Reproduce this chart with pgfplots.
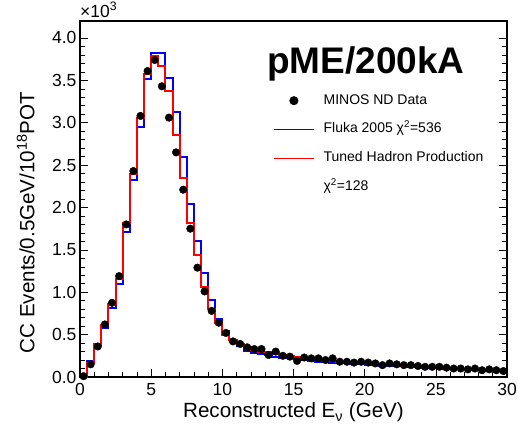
\documentclass[border=0pt]{standalone}
\usepackage{fontspec}
\setmainfont{Liberation Sans}
\usepackage{pgfplots}
\pgfplotsset{compat=1.18}
\begin{document}
\begin{tikzpicture}
\begin{axis}[
  name=ax, set layers,
  at={(0pt,0pt)}, anchor=south west,
  scale only axis, width=427pt, height=356pt,
  xmin=0, xmax=30, ymin=0, ymax=4.2,
  axis line style={line width=1.6pt},
  xtick={0,5,...,30}, minor x tick num=4,
  ytick={0,0.5,...,4}, minor y tick num=4,
  xtick pos=bottom, ytick pos=both,
  tick align=inside,
  major tick length=8pt, minor tick length=5pt,
  tick style={black, line width=0.6pt},
  /pgf/number format/assume math mode=true,
  yticklabel style={/pgf/number format/.cd, fixed, fixed zerofill, precision=1},
  xticklabel style={yshift=-3pt},
  ticklabel style={font=\fontsize{17.5}{19}\selectfont},
  xlabel={Reconstructed E\textsubscript{ν} (GeV)},
  ylabel={CC Events/0.5GeV/10\textsuperscript{18}POT},
  label style={font=\fontsize{20.6}{22}\selectfont},
  xlabel style={at={(axis description cs:0.5,-0.115)}, anchor=base},
  ylabel style={at={(axis description cs:-0.107,0.434)}, anchor=base},
  legend image code/.code={\draw[mark repeat=2,mark phase=2,#1,line width=1.4pt] plot coordinates {(0pt,0pt) (20pt,0pt) (40pt,0pt)};},
  legend cell align=left,
  legend style={draw=none, fill=none, inner sep=0pt,
    at={(0.452,0.795)}, anchor=north west,
    font=\fontsize{14}{16}\selectfont, row sep=15.8pt,
    nodes={inner sep=0pt, text height=10pt, text depth=3pt},
    /tikz/every odd column/.append style={column sep=9pt}},
]
% MINOS ND data
\addplot[only marks, mark=*, color=black, mark size=3.8pt, on layer=axis foreground] coordinates {
(0.25,0.01) (0.75,0.15) (1.25,0.36) (1.75,0.62) (2.25,0.875) (2.75,1.19)
(3.25,1.80) (3.75,2.43) (4.25,3.08) (4.75,3.61) (5.25,3.74) (5.75,3.43)
(6.25,3.06) (6.75,2.65) (7.25,2.21) (7.75,1.75) (8.25,1.29) (8.75,1.01)
(9.25,0.78) (9.75,0.64) (10.25,0.52) (10.75,0.42) (11.25,0.39) (11.75,0.35)
(12.25,0.33) (12.75,0.33) (13.25,0.26) (13.75,0.30) (14.25,0.25) (14.75,0.24)
(15.25,0.19) (15.75,0.23) (16.25,0.22) (16.75,0.22) (17.25,0.20) (17.75,0.22)
(18.25,0.18) (18.75,0.18) (19.25,0.17) (19.75,0.18) (20.25,0.17) (20.75,0.16)
(21.25,0.14) (21.75,0.16) (22.25,0.15) (22.75,0.14) (23.25,0.14) (23.75,0.13)
(24.25,0.12) (24.75,0.12) (25.25,0.12) (25.75,0.11) (26.25,0.10) (26.75,0.10)
(27.25,0.09) (27.75,0.10) (28.25,0.08) (28.75,0.09) (29.25,0.08) (29.75,0.07)
};
\addlegendentry{MINOS ND Data}
% Fluka 2005 (blue)
\addplot[const plot, color=blue, line width=2pt] coordinates {
(0,0.005) (0.5,0.19) (1.0,0.38) (1.5,0.58) (2.0,0.82) (2.5,1.10)
(3.0,1.71) (3.5,2.33) (4.0,2.95) (4.5,3.51) (5.0,3.82) (5.5,3.82)
(6.0,3.53) (6.5,3.13) (7.0,2.60) (7.5,2.04) (8.0,1.61) (8.5,1.23)
(9.0,0.91) (9.5,0.685) (10.0,0.54) (10.5,0.44) (11.0,0.37) (11.5,0.31)
(12.0,0.28) (12.5,0.27) (13.0,0.26) (13.5,0.24) (14.0,0.23) (14.5,0.22)
(15.0,0.21) (15.5,0.20) (16.0,0.19) (16.5,0.18) (17.0,0.175) (17.5,0.17)
(18.0,0.165) (18.5,0.16) (19.0,0.15) (19.5,0.15) (20.0,0.145) (20.5,0.14)
(21.0,0.135) (21.5,0.13) (22.0,0.13) (22.5,0.125) (23.0,0.12) (23.5,0.115)
(24.0,0.11) (24.5,0.11) (25.0,0.105) (25.5,0.10) (26.0,0.095) (26.5,0.09)
(27.0,0.09) (27.5,0.085) (28.0,0.08) (28.5,0.08) (29.0,0.075) (29.5,0.07)
(30.0,0.07)
};
\addlegendentry{Fluka 2005 χ\textsuperscript{2}=536}
% Tuned hadron production (red)
\addplot[const plot, color=red, line width=2pt] coordinates {
(0,0.005) (0.5,0.16) (1.0,0.39) (1.5,0.61) (2.0,0.86) (2.5,1.16)
(3.0,1.82) (3.5,2.40) (4.0,3.05) (4.5,3.57) (5.0,3.79) (5.5,3.67)
(6.0,3.37) (6.5,2.86) (7.0,2.35) (7.5,1.82) (8.0,1.44) (8.5,1.06)
(9.0,0.80) (9.5,0.64) (10.0,0.50) (10.5,0.44) (11.0,0.39) (11.5,0.35)
(12.0,0.32) (12.5,0.30) (13.0,0.29) (13.5,0.28) (14.0,0.26) (14.5,0.25)
(15.0,0.24) (15.5,0.23) (16.0,0.22) (16.5,0.21) (17.0,0.20) (17.5,0.19)
(18.0,0.18) (18.5,0.175) (19.0,0.17) (19.5,0.165) (20.0,0.16) (20.5,0.155)
(21.0,0.15) (21.5,0.145) (22.0,0.14) (22.5,0.135) (23.0,0.13) (23.5,0.125)
(24.0,0.12) (24.5,0.115) (25.0,0.11) (25.5,0.105) (26.0,0.10) (26.5,0.095)
(27.0,0.09) (27.5,0.085) (28.0,0.08) (28.5,0.075) (29.0,0.07) (29.5,0.065)
(30.0,0.065)
};
\addlegendentry{Tuned Hadron Production}
\addlegendimage{empty legend}
\addlegendentry{χ\textsuperscript{2}=128}
\node[anchor=base west, inner sep=0pt, font=\fontsize{37}{40}\selectfont\bfseries] at (axis cs:13.14,3.583) {pME/200kA};
\end{axis}
\node[anchor=base west, inner sep=0pt, font=\fontsize{17.5}{19}\selectfont] at ([yshift=4pt]ax.north west) {×10\textsuperscript{3}};
\pgfresetboundingbox
\useasboundingbox (-80pt,-47pt) rectangle (438pt,377pt);
\end{tikzpicture}
\end{document}
